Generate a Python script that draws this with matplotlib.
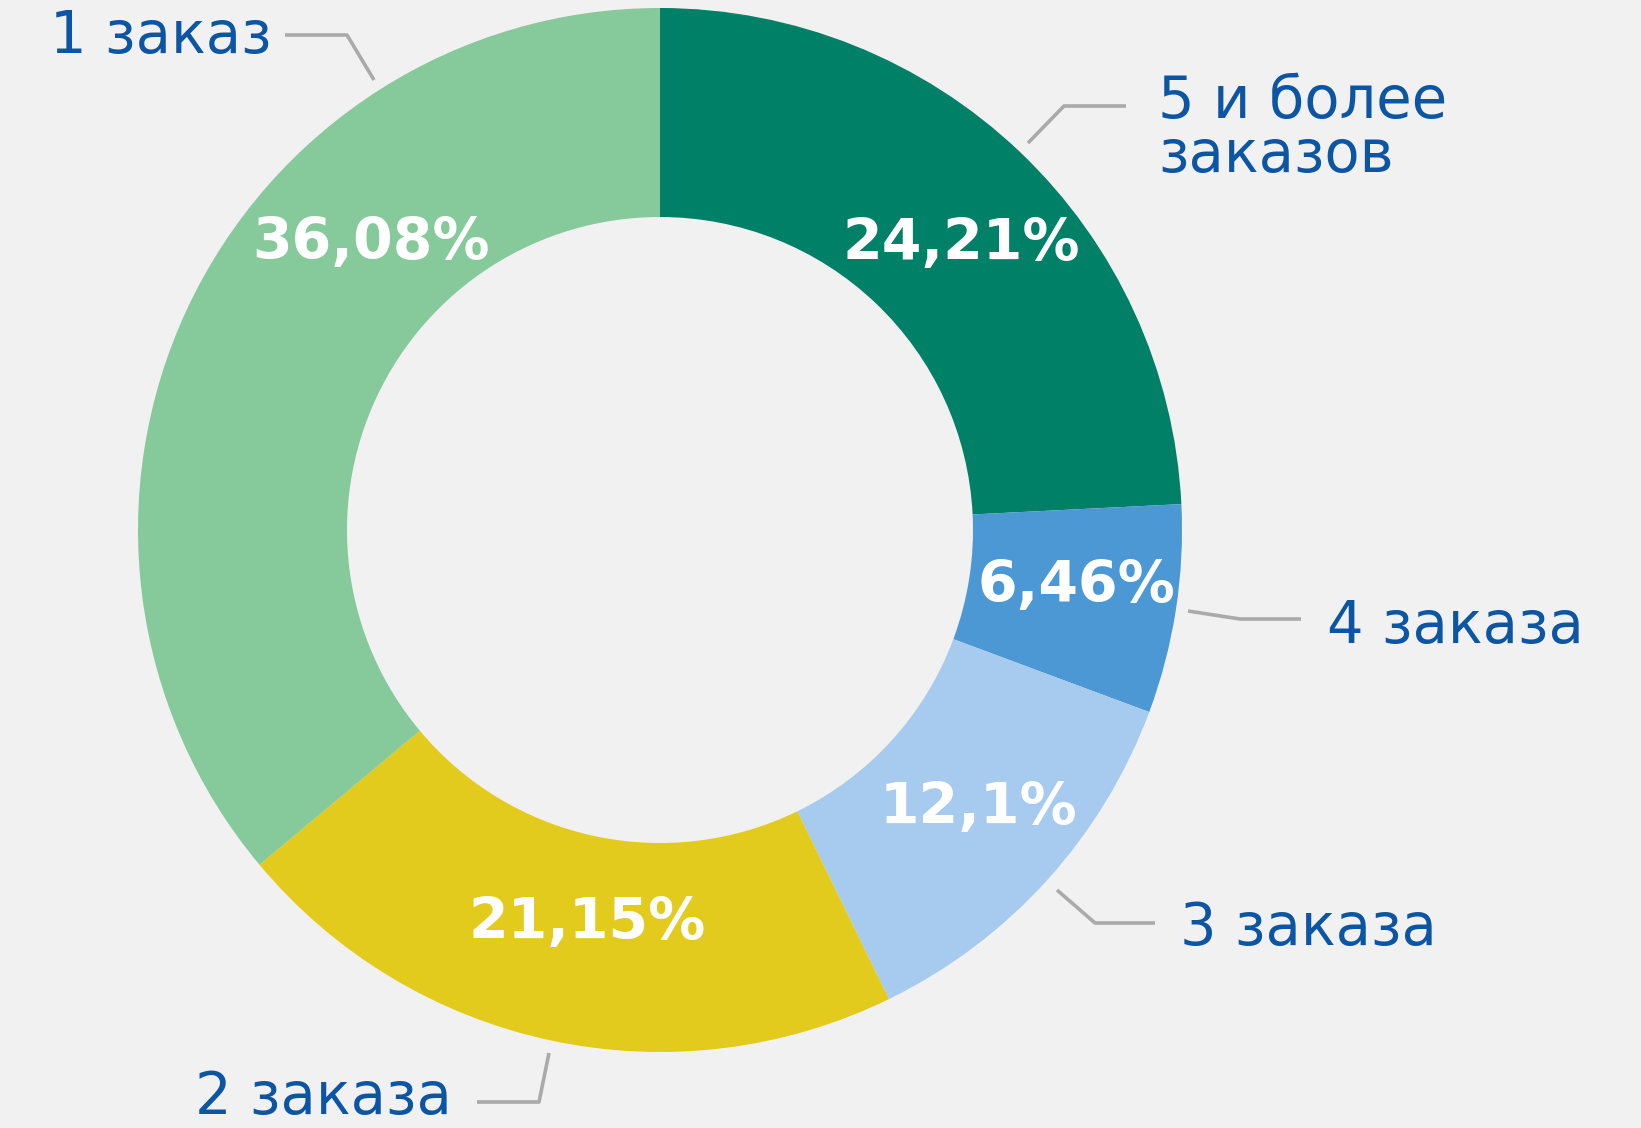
import numpy as np
import matplotlib.pyplot as plt

# данные
categories = ["5 и более\nзаказов", "4 заказа", "3 заказа", "2 заказа", "1 заказ"]
shares = [24.21, 6.46, 12.1, 21.15, 36.08]
share_labels = ["24,21%", "6,46%", "12,1%", "21,15%", "36,08%"]
colors = ["#008066", "#4b98d4", "#a6cbee", "#e3cb1d", "#86c99b"]

W, H = 1641, 1128
BG = "#f1f1f1"
TEXT_BLUE = "#0b55a3"
LINE_GRAY = "#aaaaaa"

cx, cy = 660, H - 530
r_out, r_in = 522, 313

fig = plt.figure(figsize=(W / 100, H / 100), dpi=100)
fig.patch.set_facecolor(BG)
ax = fig.add_axes([0, 0, 1, 1])
ax.set_facecolor(BG)

ax.pie(shares, colors=colors, radius=r_out, center=(cx, cy), startangle=90,
       counterclock=False, wedgeprops=dict(width=r_out - r_in, linewidth=0))

ax.set_xlim(0, W)
ax.set_ylim(0, H)
ax.set_aspect("equal")
ax.axis("off")

# подписи процентов внутри кольца
shift = [-2.6, 1.5, 1.4, 1.4, -20]
r_lab = [417, 420, 421, 397, 409]
start = 90.0
for val, lab, sh, rl in zip(shares, share_labels, shift, r_lab):
    span = val / sum(shares) * 360
    mid = np.deg2rad(start - span / 2 + sh)
    start -= span
    ax.text(cx + rl * np.cos(mid), cy + rl * np.sin(mid) - 3, lab,
            color="white", fontsize=41, fontweight="bold",
            ha="center", va="center")

# подписи категорий с выносками (в пикселях от верхнего левого угла)
label_pos = [(1158, 172), (1327, 643), (1180, 945), (195, 1114), (50, 53)]
leaders = [
    [(1028, 143), (1064, 106), (1126, 106)],
    [(1188, 611), (1240, 619), (1301, 619)],
    [(1057, 890), (1095, 923), (1155, 923)],
    [(549, 1053), (539, 1102), (477, 1102)],
    [(374, 80), (347, 35), (285, 35)],
]
for cat, (x, y), pts in zip(categories, label_pos, leaders):
    ax.text(x, H - y, cat, color=TEXT_BLUE, fontsize=41.5, ha="left",
            va="baseline", linespacing=0.93)
    xs = [p[0] for p in pts]
    ys = [H - p[1] for p in pts]
    ax.plot(xs, ys, color=LINE_GRAY, lw=2.6, solid_capstyle="butt")

fig.savefig("out.png", dpi=100, facecolor=BG)
